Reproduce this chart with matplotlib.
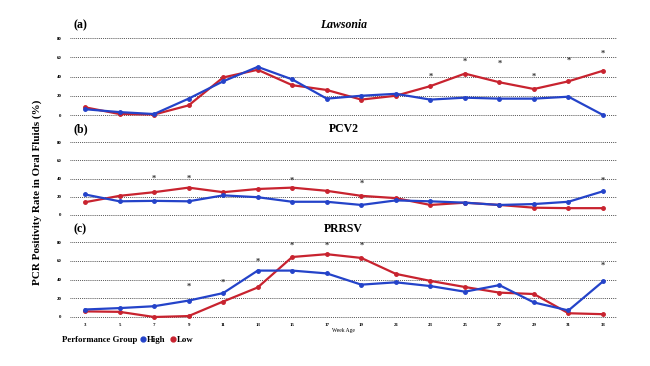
import matplotlib
matplotlib.use("Agg")
import matplotlib.pyplot as plt
from matplotlib.lines import Line2D

weeks = [3, 5, 7, 9, 11, 13, 15, 17, 19, 21, 23, 25, 27, 29, 31, 33]

law_high = [6, 3, 1, 17, 35, 50, 37, 17, 20, 22, 16, 18, 17, 17, 19, 0]
law_low = [8, 1, 0.5, 10, 39, 47, 31, 26, 16, 20, 30, 43, 34, 27, 35, 46]
law_star_wk = [23, 25, 27, 29, 31, 33]
law_star_y = [40, 55, 53, 40, 56, 64]

pcv_high = [22.5, 15, 15.5, 15, 21.5, 19.5, 14.5, 14.5, 11, 16, 15, 13.5, 11, 12, 14.5, 26]
pcv_low = [14, 21, 25, 30, 25, 28.5, 30, 26.5, 21, 18.5, 11, 13.5, 11, 8, 7.5, 7.5]
pcv_star_wk = [7, 9, 15, 19, 33]
pcv_star_y = [40, 40, 37, 34, 38]

prr_high = [8, 9.5, 11.5, 17.5, 25.5, 49.5, 49.5, 46.5, 34.5, 37, 33, 27, 34, 15.5, 7, 38]
prr_low = [6, 5.5, 0, 1, 16.5, 31.5, 64, 67, 63, 46, 38.5, 32, 26, 24.5, 4, 3]
prr_star_wk = [9, 11, 13, 15, 17, 19, 33]
prr_star_y = [32, 37, 59, 76, 76, 76, 55]

panels = [("(a)", "Lawsonia", law_high, law_low, law_star_wk, law_star_y),
          ("(b)", "PCV2", pcv_high, pcv_low, pcv_star_wk, pcv_star_y),
          ("(c)", "PRRSV", prr_high, prr_low, prr_star_wk, prr_star_y)]

BLUE = "#2443c9"
RED = "#c8232f"
W, H = 650, 366

plt.rcParams["font.family"] = "Liberation Serif"
fig = plt.figure(figsize=(6.5, 3.66), dpi=100)

# pixel rows: (y of value 0, y of value 80)
rows = [(115, 38), (215, 142), (317, 242)]
x0, x1 = 70, 617
xlim = (2.13, 33.81)

for i, (lab, title, hi, lo, swk, sy) in enumerate(panels):
    p0, p80 = rows[i]
    s = (p0 - p80) / 80.0
    bot = p0 + 3 * s
    top = p80 - 3 * s
    ax = fig.add_axes([x0 / W, 1 - bot / H, (x1 - x0) / W, (bot - top) / H])
    ax.set_xlim(xlim)
    ax.set_ylim(-3, 83)
    for yv in [0, 20, 40, 60, 80]:
        ax.axhline(yv, color="#222222", lw=0.6, ls=(0, (1, 1.3)), zorder=0)
    ax.plot(weeks, hi, color=BLUE, lw=1.6, marker="o", ms=2.5, zorder=3)
    ax.plot(weeks, lo, color=RED, lw=1.6, marker="o", ms=2.5, zorder=2)
    for w, y in zip(swk, sy):
        ax.text(w, y, "*", ha="center", va="center", fontsize=6,
                color="#333333", fontweight="bold")
    for sp in ax.spines.values():
        sp.set_visible(False)
    ax.set_yticks([0, 20, 40, 60, 80])
    ax.tick_params(axis="y", length=0, labelsize=3.5, pad=6)
    for t in ax.get_yticklabels():
        t.set_fontweight("bold")
    if i < 2:
        ax.set_xticks([])
    else:
        ax.set_xticks(weeks)
        ax.tick_params(axis="x", length=0, labelsize=3.5, pad=2)
        for t in ax.get_xticklabels():
            t.set_fontweight("bold")
        ax.set_xlabel("Week Age", fontsize=4, labelpad=1)
    fig.text(73 / W, 1 - (p80 - 13) / H, lab, fontsize=8.5, fontweight="bold",
             ha="left", va="center")
    fig.text((x0 + x1) / 2 / W, 1 - (p80 - 13) / H, title, fontsize=8.5,
             fontweight="bold", style="italic" if i == 0 else "normal",
             ha="center", va="center")

fig.text(37 / W, 1 - 192 / H, "PCR Positivity Rate in Oral Fluids (%)",
         rotation=90, fontsize=8, fontweight="bold", ha="center", va="center")

fig.text(62 / W, 1 - 340 / H, "Performance Group", fontsize=6.3,
         fontweight="bold", ha="left", va="center")
handles = [Line2D([], [], color=BLUE, marker="o", ls="", ms=3.5),
           Line2D([], [], color=RED, marker="o", ls="", ms=3.5)]
fig.legend(handles, ["High", "Low"], loc="center left",
           bbox_to_anchor=(141 / W, 1 - 340 / H), ncol=2, frameon=False,
           prop={"size": 6.3, "weight": "bold"}, handlelength=0.5,
           handletextpad=0.2, columnspacing=0.6, borderpad=0, borderaxespad=0)

fig.savefig("out.png", dpi=100)
